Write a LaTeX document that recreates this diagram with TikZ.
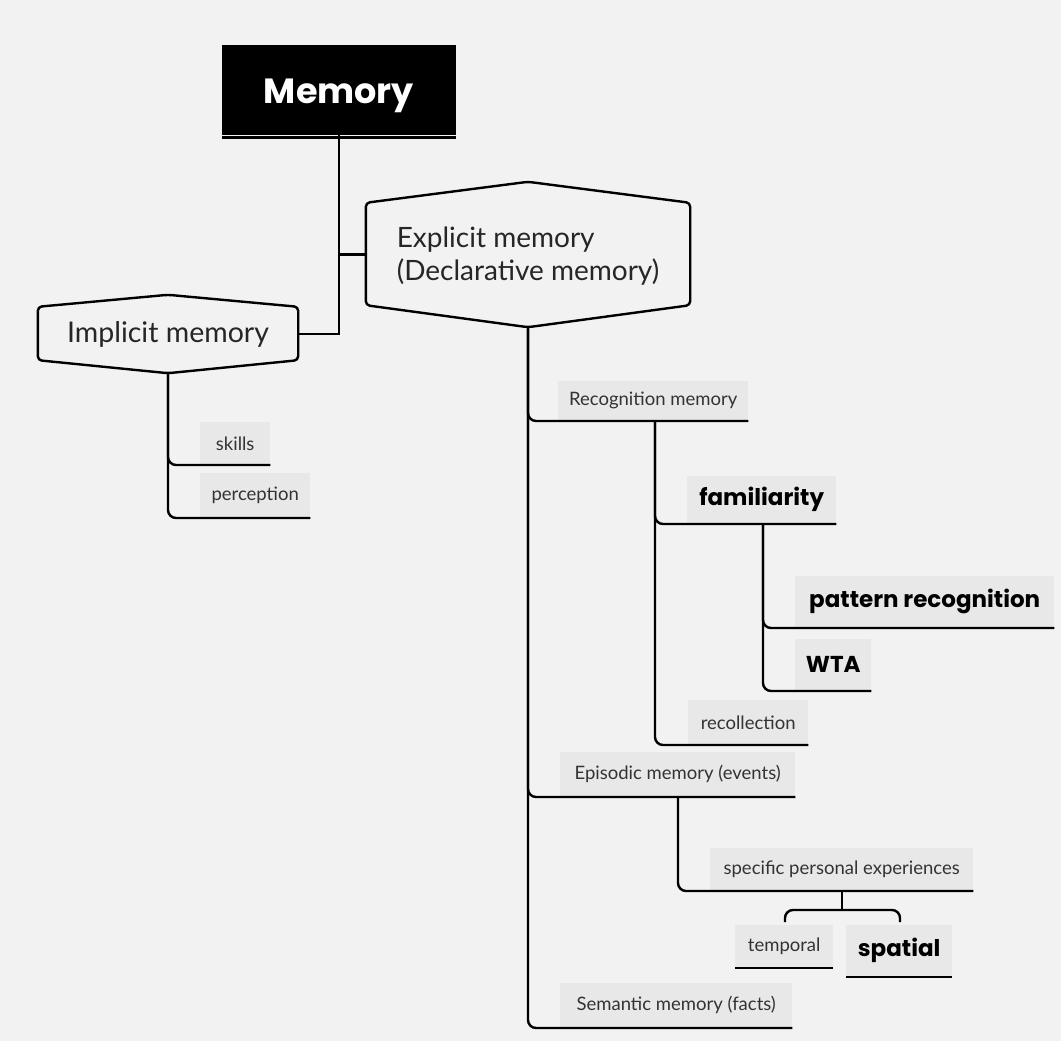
\documentclass[tikz,border=0pt]{standalone}
\usepackage{fontspec}
\setmainfont{Lato}
\newfontfamily\boldfont{Poppins}
\definecolor{bg}{HTML}{F2F2F2}
\definecolor{labgray}{HTML}{E8E8E8}
\definecolor{txt}{HTML}{333333}
\begin{document}
\begin{tikzpicture}[x=1pt,y=-1pt]
\tikzset{
  conn/.style={draw=black, line width=2.4pt, rounded corners=8pt},
  hexline/.style={draw=black, line width=2.4pt, rounded corners=4pt, fill=bg},
  lab/.style={fill=labgray, inner sep=0pt, anchor=south west, text=txt, font=\fontsize{18.5}{22}\selectfont},
  blab/.style={fill=labgray, inner sep=0pt, anchor=south west, text=black, font=\boldfont\bfseries\fontsize{23}{26}\selectfont},
}
\fill[bg] (0,0) rectangle (1061,1041);
\useasboundingbox (0,0) rectangle (1061,1041);

% root
\node[fill=black, minimum width=234pt, minimum height=89pt, inner sep=0pt] (mem) at (339,90) {};
\node[text=white, font=\boldfont\bfseries\fontsize{35}{40}\selectfont] at ([yshift=-6pt]mem.center) {Memory};
\draw[line width=2.5pt] ([yshift=-3pt]mem.south west) -- ([yshift=-3pt]mem.south east);

% hexagon nodes
\node[minimum width=324pt, minimum height=145pt, inner sep=0pt] (expl) at (528,254.5) {};
\draw[hexline] (expl.north) -- ([yshift=-21pt]expl.north west) -- ([yshift=22pt]expl.south west)
  -- (expl.south) -- ([yshift=22pt]expl.south east) -- ([yshift=-21pt]expl.north east) -- cycle;
\node[align=left, text=black!85, font=\fontsize{28}{33}\selectfont] at ([yshift=-2pt]expl.center) {Explicit memory\\(Declarative memory)};

\node[minimum width=260pt, minimum height=78pt, inner sep=0pt] (impl) at (168,334) {};
\draw[hexline] (impl.north) -- ([yshift=-12pt]impl.north west) -- ([yshift=13pt]impl.south west)
  -- (impl.south) -- ([yshift=13pt]impl.south east) -- ([yshift=-12pt]impl.north east) -- cycle;
\node[text=black!85, font=\fontsize{28.5}{33}\selectfont] at (impl.center) {Implicit memory};

% root connectors
\draw[line width=2.4pt] (mem.south) |- (impl.east);
\draw[line width=2.4pt] (expl.west) -| (mem.south);

% labels
\node[lab, minimum width=70pt, minimum height=43pt] (skills) at (200,465) {skills};
\node[lab, minimum width=110pt, minimum height=45pt] (perc) at (200,518) {perception};
\node[lab, minimum width=190pt, minimum height=40pt] (recog) at (558,421) {Recognition memory};
\node[blab, minimum width=149pt, minimum height=48pt] (fam) at (687,524) {familiarity};
\node[blab, minimum width=259pt, minimum height=52pt] (patt) at (795,628) {pattern recognition};
\node[blab, minimum width=76pt, minimum height=52pt] (wta) at (795,691) {WTA};
\node[lab, minimum width=120pt, minimum height=45pt] (recoll) at (688,745) {recollection};
\node[lab, minimum width=235pt, minimum height=45pt] (epis) at (560,797) {Episodic memory (events)};
\node[lab, minimum width=263pt, minimum height=43pt] (spec) at (710,891) {specific personal experiences};
\node[lab, minimum width=98pt, minimum height=43pt] (temp) at (735,968) {temporal};
\node[blab, minimum width=106pt, minimum height=52pt] (spat) at (846,977) {spatial};
\node[lab, minimum width=232pt, minimum height=45pt] (sem) at (560,1028) {Semantic memory (facts)};

% connectors
\draw[conn] (impl.south) |- (skills.south east);
\draw[conn] (impl.south) |- (perc.south east);
\draw[conn] (expl.south) |- (recog.south east);
\draw[conn] (expl.south) |- (epis.south east);
\draw[conn] (expl.south) |- (sem.south east);
\coordinate (rb) at (655,421);
\draw[conn] (rb) |- (fam.south east);
\draw[conn] (rb) |- (recoll.south east);
\coordinate (fb) at (763,524);
\draw[conn] (fb) |- (patt.south east);
\draw[conn] (fb) |- (wta.south east);
\coordinate (eb) at (678,797);
\draw[conn] (eb) |- (spec.south east);
\coordinate (sb) at (842,891);
\coordinate (bl) at (785,922);
\coordinate (br) at (900,922);
\draw[conn] (sb) -- ++(0,19);
\draw[conn] (bl) -- ++(0,-12) -- ++(115,0) -- (br);
\draw[line width=2.4pt] (temp.south west) -- (temp.south east);
\draw[line width=2.4pt] (spat.south west) -- (spat.south east);
\end{tikzpicture}
\end{document}
